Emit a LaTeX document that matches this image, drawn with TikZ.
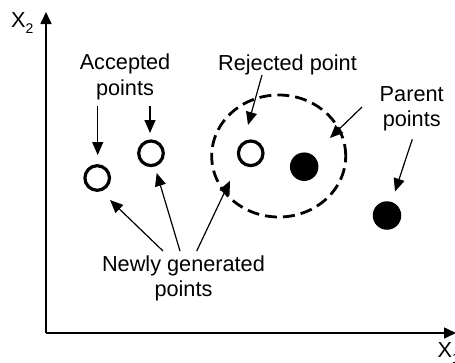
\documentclass[tikz,border=0pt]{standalone}
\usepackage{fontspec}
\setmainfont{Liberation Sans}
\usetikzlibrary{arrows.meta,shapes.geometric}
\begin{document}
\begin{tikzpicture}[x=1pt,y=-1pt,
  lbl/.style={font=\fontsize{21.7}{25.5}\selectfont, inner sep=0pt, align=center},
  axislbl/.style={font=\fontsize{21.7}{25}\selectfont, inner sep=0pt},
  axisline/.style={line width=1.6pt, -{Triangle[length=12pt,width=11pt]}},
  arr/.style={line width=1.2pt, -{Triangle[length=13pt,width=11pt]}},
  ring/.style={circle, draw, line width=3.2pt, minimum size=24.6pt, inner sep=0pt},
  dot/.style={circle, fill, minimum size=28.5pt, inner sep=0pt},
  zoneline/.style={ellipse, draw, dash pattern=on 12pt off 6pt, line width=2.8pt,
                   minimum width=134pt, minimum height=122pt, inner sep=0pt}
]
\useasboundingbox (0,0) rectangle (455,362);

% axes
\coordinate (origin) at (46,333);
\coordinate (ytip) at (46,12);
\coordinate (xtip) at (456,333);
\draw[axisline] (origin) -- (ytip);
\draw[axisline] (origin) -- (xtip);
\node[axislbl, anchor=base west] (x2lbl) at (11,27)
  {X\raisebox{-0.28em}{\fontsize{14}{14}\selectfont 2}};
\node[axislbl, anchor=base west] (x1lbl) at (437.5,357.5)
  {X\raisebox{-0.28em}{\fontsize{14}{14}\selectfont 1}};

% points
\node[zoneline] (zone) at (278.7,156) {};
\node[ring] (acc1) at (97.2,178) {};
\node[ring] (acc2) at (151,153.3) {};
\node[ring] (rej) at (250.7,153.3) {};
\node[dot] (par1) at (304.2,166.7) {};
\node[dot] (par2) at (387,215.5) {};

% labels (base anchor sits on the last line)
\node[lbl, anchor=base] (accL) at (125,95) {Accepted\\points};
\node[lbl, anchor=base] (rejL) at (287.5,70) {Rejected point};
\node[lbl, anchor=base] (parL) at (411.7,126.5) {Parent\\points};
\node[lbl, anchor=base] (newL) at (183.5,296.5) {Newly generated\\points};

% arrow ends
\coordinate (accS1) at (97.7,106);
\coordinate (accT1) at (97.7,155);
\coordinate (accS2) at (150,106);
\coordinate (accT2) at (150,133);
\coordinate (rejS) at (262,75);
\coordinate (rejT) at (248,125);
\coordinate (parS1) at (362,107);
\coordinate (parT1) at (330,138);
\coordinate (parS2) at (412.3,139.3);
\coordinate (parT2) at (395,191.5);
\coordinate (newS1) at (163,251);
\coordinate (newT1) at (110,200);
\coordinate (newS2) at (180,251);
\coordinate (newT2) at (156.7,173);
\coordinate (newS3) at (196.7,251);
\coordinate (newT3) at (230,180.7);

% arrows
\draw[arr] (accS1) -- (accT1);
\draw[arr] (accS2) -- (accT2);
\draw[arr] (rejS) -- (rejT);
\draw[arr] (parS1) -- (parT1);
\draw[arr] (parS2) -- (parT2);
\draw[arr] (newS1) -- (newT1);
\draw[arr] (newS2) -- (newT2);
\draw[arr] (newS3) -- (newT3);
\end{tikzpicture}
\end{document}
